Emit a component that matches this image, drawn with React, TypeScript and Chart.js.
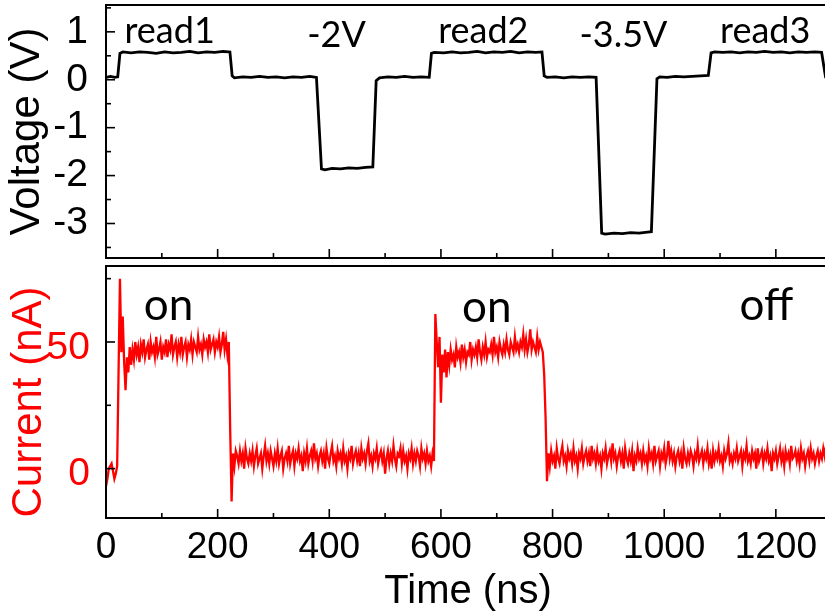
import React, { useEffect, useRef } from 'react';
import { Chart, registerables } from 'chart.js';

Chart.register(...registerables);

// ---------------- DATA ----------------
// Voltage trace (top panel): time in ns, voltage in V
const voltageTimes = [
  0, 8, 16, 21, 25, 30, 45, 60, 75, 90, 105, 120, 135, 150, 165, 180, 195, 210, 222,
  226, 230, 245, 260, 275, 290, 305, 320, 335, 350, 365, 377,
  386, 392, 405, 420, 435, 450, 465, 478,
  484, 490, 505, 520, 535, 550, 565, 579,
  583, 588, 605, 620, 635, 650, 665, 680, 695, 710, 725, 740, 755, 770, 781,
  785, 790, 805, 820, 835, 850, 865, 878,
  888, 894, 910, 925, 940, 955, 970, 977,
  987, 992, 1005, 1020, 1035, 1050, 1065, 1079,
  1084, 1090, 1105, 1120, 1135, 1150, 1165, 1180, 1195, 1210, 1225, 1240, 1255, 1270, 1282,
  1289, 1297,
];
const voltageValues = [
  0.05, 0.07, 0.05, 0.06, 0.55, 0.58, 0.56, 0.58, 0.57, 0.55, 0.58, 0.56, 0.57, 0.59, 0.56, 0.58, 0.57, 0.59, 0.58,
  0.08, 0.04, 0.06, 0.05, 0.07, 0.05, 0.06, 0.04, 0.06, 0.05, 0.07, 0.05,
  -1.86, -1.88, -1.85, -1.86, -1.84, -1.85, -1.83, -1.82,
  -0.02, 0.04, 0.06, 0.05, 0.07, 0.05, 0.06, 0.05,
  0.55, 0.57, 0.56, 0.58, 0.56, 0.57, 0.59, 0.56, 0.58, 0.57, 0.59, 0.56, 0.58, 0.57, 0.58,
  0.08, 0.05, 0.06, 0.04, 0.06, 0.05, 0.06, 0.05,
  -3.2, -3.22, -3.2, -3.21, -3.19, -3.2, -3.18, -3.17,
  0.02, 0.06, 0.05, 0.07, 0.06, 0.07, 0.08, 0.09,
  0.56, 0.58, 0.57, 0.58, 0.56, 0.58, 0.57, 0.59, 0.57, 0.58, 0.56, 0.58, 0.57, 0.58, 0.57,
  0.06, 0.05,
];

// Current trace (bottom panel), in nA, sampled every currentStep ns.
// Each segment is listed with the time (ns) of its first sample.
const currentStep = 2.5;
const baseline0Start = 0;
const baseline0 = [-7, -4, 0, 1, 2, -1, -4, -2, 1];
const on1Start = 22.5;
const on1 = [
  38, 75, 46, 60, 42, 31, 44, 38, 48, 41,
  47, 43, 50, 45, 48, 42, 49, 46, 51, 44,
  47, 49, 43, 50, 46, 48, 44, 52, 45, 47,
  50, 43, 48, 46, 51, 44, 49, 47, 53, 45,
  48, 50, 44, 49, 46, 52, 45, 48, 50, 44,
  49, 47, 51, 45, 50, 48, 46, 52, 47, 49,
  45, 51, 48, 50, 46, 53, 47, 49, 51, 46,
  50, 48, 52, 46, 49, 54, 47, 51, 45, 50,
];
const off1Start = 222.5;
const off1 = [
  15, -13, 6, 1, 7,
  5, 2, 7, 3, 6, 0, 8, 4, 2, 6,
  3, 7, 1, 5, 8, 2, 4, 6, 0, 5,
  9, 3, 6, 2, 7, 4, 1, 6, 3, 8,
  2, 5, 7, 0, 4, 6, 3, 9, 2, 5,
  7, 1, 6, 4, 8, 3, 5, -1, 6, 3,
  8, 2, 5, 7, 3, 10, 4, 6, 1, 5,
  7, 3, 6, 0, 8, 4, 2, 6, 9, 3,
  5, 1, 7, 4, 6, 2, 8, 3, 5, 0,
  6, 4, 9, 2, 5, 7, 3, 6, 1, 8,
  4, 6, 2, 7, 10, 3, 5, 1, 6, 4,
  8, 2, 5, 7, 3, 6, -2, 4, 7, 2,
  6, 3, 9, 4, 1, 6, 5, 8, 2, 7,
  3, 5, 0, 6, 4, 8, 2, 6, 3, 7,
  5, 1, 8, 4, 6, 2, 7, 3, 5, 1,
  6, 3,
];
const on2Start = 590;
const on2 = [
  61, 50, 40, 52, 26, 45, 38, 47, 36, 46,
  41, 47, 43, 45, 40, 48, 44, 46, 42, 49,
  44, 47, 42, 46, 45, 50, 43, 47, 45, 48,
  44, 51, 46, 43, 48, 45, 50, 44, 47, 46,
  49, 45, 52, 46, 48, 44, 50, 47, 45, 49,
  46, 51, 47, 45, 50, 48, 46, 52, 47, 49,
  46, 50, 48, 53, 47, 51, 46, 49, 55, 47,
  50, 48, 46, 52, 47, 50, 48,
  46, 37,
];
const off2Start = 787.5;
const off2 = [
  20, -5, 6, 1,
  7, 3, 5, 0, 8, 4, 2, 6, 9, 3,
  5, 1, 7, 4, 6, 2, 8, 3, 5, 0,
  6, 4, 8, 2, 5, 7, 3, 6, 1, 9,
  4, 6, 2, 7, 3, 5, 0, 6, 4, 8,
  2, 5, 7, 3, 10, 4, 6, 1, 5, 7,
  3, 6, 0, 8, 4, 2, 6, 3, 7, -1,
  5, 3, 8, 4, 6, 2, 7, 3, 5, 1,
  8, 4, 6, 2, 9, 3, 5, 7, 1, 6,
  4, 8, 2, 5, 11, 4, 7, 3, 6, 1,
  5, 7, 3, 6, 0, 8, 4, 2, 6, 3,
  7, 5, 1, 6, 4, 9, 3, 5, 7, 2,
  6, 4, 8, 2, 5, 0, 7, 3, 6, 4,
  8, 3, 5, 1, 7, 4, 6, 10, 3, 5,
  2, 6, 4, 8, 3, 5, 7, 1, 6, 4,
  9, 3, 5, 2, 7, 4, 6, 0, 8, 3,
  5, 7, 2, 6, 4, 8, 3, 5, -1, 6,
  4, 7, 2, 5, 8, 3, 6, 1, 7, 4,
  6, 2, 9, 4, 5, 7, 3, 6, 2, 8,
  4, 6, 1, 5, 7, 3, 8, 4, 6, 2,
  5, 7, 3, 6, 4, 8, 5, 9, 7, 10,
];

// Annotations
const voltageNotes = ['read1', '-2V', 'read2', '-3.5V', 'read3'];
const voltageNoteTimes = [114, 413, 676, 927, 1181];
const voltageNoteLevels = [0.77, 0.69, 0.77, 0.69, 0.77];
const currentNotes = ['on', 'on', 'off'];
const currentNoteTimes = [112, 682, 1183];
const currentNoteLevels = [58.5, 57.8, 58.5];

// Axis ranges / ticks
const timeMin = 0;
const timeMax = 1297;
const timeTicks = [0, 100, 200, 300, 400, 500, 600, 700, 800, 900, 1000, 1100, 1200];
const timeLabelEvery = 200;
const voltageMin = -3.72;
const voltageMax = 1.56;
const voltageTicks = [-3.5, -3, -2.5, -2, -1.5, -1, -0.5, 0, 0.5, 1, 1.5];
const voltageLabelEvery = 1;
const currentMin = -19.5;
const currentMax = 80;
const currentTicks = [0, 25, 50, 75];
const currentLabelEvery = 50;

// ---------------- STYLE ----------------
const AXIS_FONT = "'Liberation Sans', Arial, sans-serif";
const NOTE_FONT = "Lato, 'Open Sans', sans-serif";
const RED = '#ff0000';
const Y_AXIS_WIDTH = 106;

function isMultiple(v: number, every: number) {
  const r = v / every;
  return Math.abs(r - Math.round(r)) < 1e-6;
}

function framePlugin(xMajorEvery: number, yMajorEvery: number) {
  return {
    id: 'frameTicks',
    afterDatasetsDraw(chart: any) {
      const { ctx, chartArea } = chart;
      const { left, right, top, bottom } = chartArea;
      const xs = chart.scales.x;
      const ys = chart.scales.y;
      ctx.save();
      ctx.strokeStyle = '#000';
      ctx.lineWidth = 1.6;
      xs.ticks.forEach((t: any) => {
        const px = xs.getPixelForValue(t.value);
        const len = isMultiple(t.value, xMajorEvery) ? 9 : 5;
        ctx.beginPath();
        ctx.moveTo(px, bottom);
        ctx.lineTo(px, bottom - len);
        ctx.stroke();
      });
      ys.ticks.forEach((t: any) => {
        const py = ys.getPixelForValue(t.value);
        const len = isMultiple(t.value, yMajorEvery) ? 9 : 5;
        ctx.beginPath();
        ctx.moveTo(left, py);
        ctx.lineTo(left + len, py);
        ctx.stroke();
      });
      ctx.lineWidth = 2;
      ctx.strokeRect(left, top, right - left, bottom - top);
      ctx.restore();
    },
  };
}

function notesPlugin(texts: string[], xs: number[], ys: number[], font: string, color: string) {
  return {
    id: 'notes',
    afterDatasetsDraw(chart: any) {
      const { ctx, scales } = chart;
      ctx.save();
      ctx.font = font;
      ctx.fillStyle = color;
      ctx.textAlign = 'center';
      ctx.textBaseline = 'alphabetic';
      texts.forEach((t, i) => {
        ctx.fillText(t, scales.x.getPixelForValue(xs[i]), scales.y.getPixelForValue(ys[i]));
      });
      ctx.restore();
    },
  };
}

// Rotated y-axis title drawn beside the axis, shifted along the axis by `shift` px
function yTitlePlugin(text: string, font: string, color: string, centerX: number, shift: number) {
  return {
    id: 'yTitle',
    afterDraw(chart: any) {
      const { ctx, chartArea } = chart;
      const cy = (chartArea.top + chartArea.bottom) / 2 + shift;
      ctx.save();
      ctx.translate(centerX, cy);
      ctx.rotate(-Math.PI / 2);
      ctx.font = font;
      ctx.fillStyle = color;
      ctx.textAlign = 'center';
      ctx.textBaseline = 'middle';
      ctx.fillText(text, 0, 0);
      ctx.restore();
    },
  };
}

const setTicks = (values: number[]) => (s: any) => {
  s.ticks = values.map((v) => ({ value: v }));
};

function segmentPoints(start: number, values: number[]) {
  return values.map((v, i) => ({ x: start + i * currentStep, y: v }));
}

export default function App() {
  const topRef = useRef<HTMLCanvasElement>(null);
  const botRef = useRef<HTMLCanvasElement>(null);

  useEffect(() => {
    const voltageData = voltageTimes.map((t, i) => ({ x: t, y: voltageValues[i] }));
    const currentData = [
      ...segmentPoints(baseline0Start, baseline0),
      ...segmentPoints(on1Start, on1),
      ...segmentPoints(off1Start, off1),
      ...segmentPoints(on2Start, on2),
      ...segmentPoints(off2Start, off2),
    ];

    const top = new Chart(topRef.current!, {
      type: 'line',
      data: {
        datasets: [
          {
            data: voltageData,
            borderColor: '#000',
            borderWidth: 2.8,
            pointRadius: 0,
            tension: 0,
          },
        ],
      },
      options: {
        animation: false,
        responsive: false,
        devicePixelRatio: 1,
        layout: { padding: { top: 5, left: 0, right: 0, bottom: 0 } },
        plugins: { legend: { display: false }, tooltip: { enabled: false } },
        scales: {
          x: {
            type: 'linear',
            min: timeMin,
            max: timeMax,
            grid: { display: false },
            border: { display: false },
            ticks: { display: false },
            afterBuildTicks: setTicks(timeTicks),
            afterFit: (s: any) => {
              s.height = 4;
              s.paddingLeft = 0;
              s.paddingRight = 0;
            },
          },
          y: {
            type: 'linear',
            min: voltageMin,
            max: voltageMax,
            grid: { display: false },
            border: { display: false },
            afterBuildTicks: setTicks(voltageTicks),
            ticks: {
              autoSkip: false,
              padding: 10,
              color: '#000',
              font: { family: AXIS_FONT, size: 39 },
              callback: (v: any) => (isMultiple(v, voltageLabelEvery) ? String(Math.round(v)) : ''),
            },
            title: {
              display: true,
              text: 'Voltage (V)',
              color: '#000',
              font: { family: AXIS_FONT, size: 42 },
              padding: { top: 2, bottom: 0 },
            },
            afterFit: (s: any) => {
              s.width = Y_AXIS_WIDTH;
              s.paddingTop = 0;
              s.paddingBottom = 0;
            },
          },
        },
      } as any,
      plugins: [
        framePlugin(timeLabelEvery, voltageLabelEvery),
        notesPlugin(voltageNotes, voltageNoteTimes, voltageNoteLevels, `36px ${NOTE_FONT}`, '#000'),
      ],
    });

    const bot = new Chart(botRef.current!, {
      type: 'line',
      data: {
        datasets: [
          {
            data: currentData,
            borderColor: RED,
            borderWidth: 2.3,
            pointRadius: 0,
            tension: 0,
          },
        ],
      },
      options: {
        animation: false,
        responsive: false,
        devicePixelRatio: 1,
        layout: { padding: { top: 4, left: 0, right: 0, bottom: 0 } },
        plugins: { legend: { display: false }, tooltip: { enabled: false } },
        scales: {
          x: {
            type: 'linear',
            min: timeMin,
            max: timeMax,
            grid: { display: false },
            border: { display: false },
            afterBuildTicks: setTicks(timeTicks),
            ticks: {
              autoSkip: false,
              maxRotation: 0,
              minRotation: 0,
              padding: 0,
              color: '#000',
              font: { family: AXIS_FONT, size: 37 },
              callback: (v: any) => (isMultiple(v, timeLabelEvery) ? String(Math.round(v)) : ''),
            },
            title: {
              display: true,
              text: 'Time (ns)',
              color: '#000',
              font: { family: AXIS_FONT, size: 40 },
              padding: { top: 0, bottom: 0 },
            },
            afterFit: (s: any) => {
              s.height = 98;
              s.paddingLeft = 0;
              s.paddingRight = 0;
            },
          },
          y: {
            type: 'linear',
            min: currentMin,
            max: currentMax,
            grid: { display: false },
            border: { display: false },
            afterBuildTicks: setTicks(currentTicks),
            ticks: {
              autoSkip: false,
              padding: 8,
              labelOffset: 6,
              color: RED,
              font: { family: AXIS_FONT, size: 39 },
              callback: (v: any) => (isMultiple(v, currentLabelEvery) ? String(Math.round(v)) : ''),
            },
            title: { display: false },
            afterFit: (s: any) => {
              s.width = Y_AXIS_WIDTH;
              s.paddingTop = 0;
              s.paddingBottom = 0;
            },
          },
        },
      } as any,
      plugins: [
        framePlugin(timeLabelEvery, currentLabelEvery),
        notesPlugin(currentNotes, currentNoteTimes, currentNoteLevels, `44px ${NOTE_FONT}`, '#000'),
        yTitlePlugin('Current (nA)', `42px ${AXIS_FONT}`, RED, 29, 10),
      ],
    });

    return () => {
      top.destroy();
      bot.destroy();
    };
  }, []);

  return (
    <div
      style={{
        position: 'absolute',
        left: 0,
        top: 0,
        width: 825,
        height: 616,
        overflow: 'hidden',
        background: '#fff',
      }}
    >
      <canvas ref={topRef} width={830} height={262} style={{ position: 'absolute', left: 0, top: 0 }} />
      <canvas ref={botRef} width={830} height={354} style={{ position: 'absolute', left: 0, top: 262 }} />
    </div>
  );
}
